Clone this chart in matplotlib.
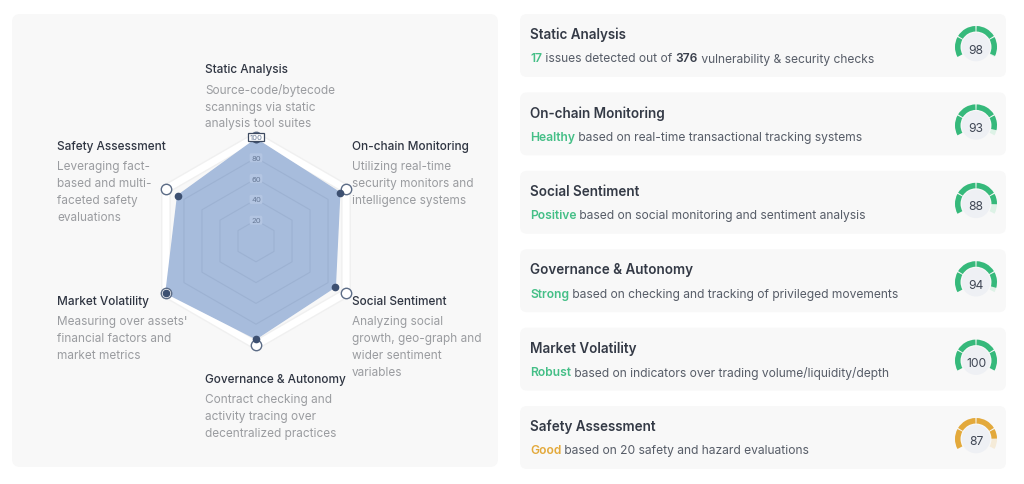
import matplotlib.pyplot as plt
import numpy as np
from matplotlib.patches import FancyBboxPatch, Wedge, Circle

plt.rcParams['font.family'] = ['Inter', 'DejaVu Sans']

# ---- data ----
categories = ['Static Analysis', 'On-chain Monitoring', 'Social Sentiment',
              'Governance & Autonomy', 'Market Volatility', 'Safety Assessment']
scores = [98, 93, 88, 94, 100, 87]
descriptions = [
    ['Source-code/bytecode', 'scannings via static', 'analysis tool suites'],
    ['Utilizing real-time', 'security monitors and', 'intelligence systems'],
    ['Analyzing social', 'growth, geo-graph and', 'wider sentiment', 'variables'],
    ['Contract checking and', 'activity tracing over', 'decentralized practices'],
    ["Measuring over assets'", 'financial factors and', 'market metrics'],
    ['Leveraging fact-', 'based and multi-', 'faceted safety', 'evaluations'],
]
radar_ticks = [20, 40, 60, 80, 100]
score_levels = ['good', 'good', 'good', 'good', 'good', 'warn']

# subtitle of each card, as (text, style) pieces
card_lines = [
    [('17', 'good'), (' issues detected out of ', 'plain'), ('376', 'strong'),
     (' vulnerability & security checks', 'plain')],
    [('Healthy', 'good'), (' based on real-time transactional tracking systems', 'plain')],
    [('Positive', 'good'), (' based on social monitoring and sentiment analysis', 'plain')],
    [('Strong', 'good'), (' based on checking and tracking of privileged movements', 'plain')],
    [('Robust', 'good'), (' based on indicators over trading volume/liquidity/depth', 'plain')],
    [('Good', 'warn'), (' based on 20 safety and hazard evaluations', 'plain')],
]

# ---- styles ----
W, H = 1024, 485
panel_bg = '#f8f8f8'
title_col = '#2f3542'
desc_col = '#9a9ca0'
gauge_col = {'good': '#36b97b', 'warn': '#e3a93b'}
track_col = {'good': '#ddf2e6', 'warn': '#f5ebd8'}
piece_style = {
    'good': dict(color='#45bf87', weight='semibold'),
    'warn': dict(color='#e3a93b', weight='semibold'),
    'strong': dict(color='#3a404c', weight='semibold'),
    'plain': dict(color='#575d68', weight='normal'),
}

fig = plt.figure(figsize=(W / 100, H / 100), dpi=100)
bg = fig.add_axes([0, 0, 1, 1])
bg.set_xlim(0, W)
bg.set_ylim(H, 0)
bg.axis('off')

# left panel
bg.add_patch(FancyBboxPatch((12, 15), 486, 453, boxstyle='round,pad=0,rounding_size=8',
                            fc=panel_bg, ec='none'))

# ---- radar ----
cx, cy, R = 256, 242, 104
rad = fig.add_axes([(cx - R) / W, (H - cy - R) / H, 2 * R / W, 2 * R / H], projection='polar')
rad.set_theta_zero_location('N')
rad.set_theta_direction(-1)
rad.set_ylim(0, 100)
rad.axis('off')

n = len(categories)
angles = np.linspace(0, 2 * np.pi, n, endpoint=False)
ang_c = np.append(angles, angles[0])
sc_c = np.append(scores, scores[0])
top = radar_ticks[-1]

rad.plot(ang_c, [top] * (n + 1), color='#f0f0f0', lw=7, clip_on=False, zorder=1)
rad.plot(ang_c, [top] * (n + 1), color='white', lw=5, clip_on=False, zorder=2)
rad.fill(ang_c, sc_c, color='#a7bcdc', zorder=3, clip_on=False)
for t in radar_ticks[:-1]:
    rad.plot(ang_c, [t] * (n + 1), color='#8da2c3', lw=0.8, alpha=0.4, zorder=4)
rad.plot(angles, [top] * n, 'o', ms=7.5, mfc='white', mec='#5c6c86', mew=1.0,
         clip_on=False, zorder=5)
rad.plot(angles, scores, 'o', ms=4.5, color='#3d5071', clip_on=False, zorder=6)
for t in radar_ticks:
    if t == top:
        box = dict(boxstyle='square,pad=0.15', fc='white', ec='#3d4a60', lw=0.9)
    else:
        box = dict(boxstyle='round,pad=0.2', fc='#b3c5e2', ec='none')
    rad.text(0, t, str(t), ha='center', va='center', fontsize=5.5, color='#687a97',
             bbox=box, zorder=7, clip_on=False)

label_pos = [(205, 70.5), (352, 147.5), (352, 302.5), (205, 380.5), (57, 302.5), (57, 147.5)]
for (lx, ly), name, desc in zip(label_pos, categories, descriptions):
    bg.text(lx, ly, name, fontsize=8.5, color=title_col, weight='medium', va='center', ha='left')
    for k, line in enumerate(desc):
        bg.text(lx, ly + 20 + 17 * k, line, fontsize=8.5, color=desc_col, va='center', ha='left')

# ---- score cards ----
card_x, card_w, card_h, step = 520, 486, 63, 78.4
gap = 3.5
for i, name in enumerate(categories):
    ty = 15 + step * i
    bg.add_patch(FancyBboxPatch((card_x, ty), card_w, card_h,
                                boxstyle='round,pad=0,rounding_size=7', fc=panel_bg, ec='none'))
    bg.text(530, ty + 20, name, fontsize=9.7, color='#343a46', weight='semibold',
            va='center', ha='left')
    prev = None
    for txt, st in card_lines[i]:
        if prev is None:
            prev = bg.text(530, ty + 44.5, txt, fontsize=8.7, va='center', ha='left',
                           **piece_style[st])
        else:
            prev = bg.annotate(txt, xy=(1, 0.5), xycoords=prev, fontsize=8.7, va='center',
                               ha='left', **piece_style[st])

    # gauge: 240 degree arc, 4 segments, filled clockwise from lower left
    gx, gy, gr, gw = 976, ty + 33, 21, 5.5
    lvl = score_levels[i]
    end = 210 - 240 * scores[i] / 100
    for k in range(4):
        a0 = 210 - 60 * k - gap / 2
        a1 = 210 - 60 * (k + 1) + gap / 2
        # y axis points down, so display angle phi -> data angle -phi
        bg.add_patch(Wedge((gx, gy), gr, -a0, -a1, width=gw, fc=track_col[lvl], ec='none'))
        if end < a0:
            f1 = max(a1, end)
            bg.add_patch(Wedge((gx, gy), gr, -a0, -f1, width=gw, fc=gauge_col[lvl], ec='none'))
    bg.add_patch(Circle((gx, gy), gr - gw - 1.2, fc='#eef0f4', ec='none'))
    bg.text(gx, gy + 2.5, str(scores[i]), fontsize=8.7, color='#3f4654', ha='center', va='center')

fig.savefig('out.png', dpi=100, facecolor='white')
